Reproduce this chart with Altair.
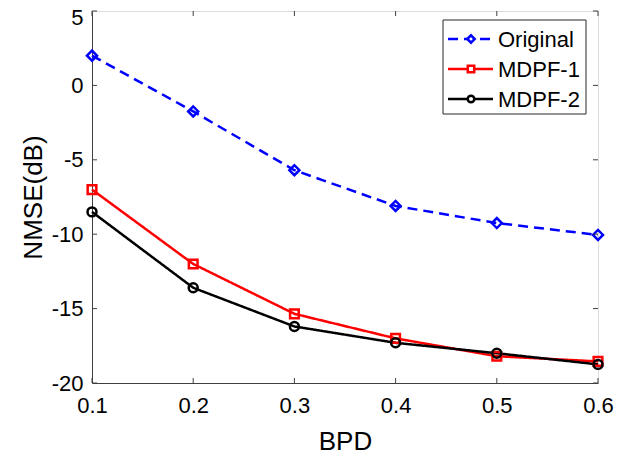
import altair as alt
import pandas as pd

bpd = [0.1, 0.2, 0.3, 0.4, 0.5, 0.6]
original = [2.0, -1.75, -5.7, -8.1, -9.25, -10.05]
mdpf1 = [-7.0, -12.0, -15.35, -17.0, -18.2, -18.55]
mdpf2 = [-8.5, -13.6, -16.2, -17.3, -18.0, -18.75]

series_names = ["Original", "MDPF-1", "MDPF-2"]
series_colors = ["#0000FF", "#FF0000", "#000000"]
series_shapes = ["diamond", "square", "circle"]
series_sizes = [100, 75, 80]
series_dash = [[10, 6], [1, 0], [1, 0]]

x_ticks = [0.1, 0.2, 0.3, 0.4, 0.5, 0.6]
y_ticks = [5, 0, -5, -10, -15, -20]

W, H = 506, 372
FONT = "Liberation Sans"
AXC = "#404040"

rows = []
for name, vals in zip(series_names, [original, mdpf1, mdpf2]):
    for b, v in zip(bpd, vals):
        rows.append({"BPD": b, "NMSE": v, "series": name})
df = pd.DataFrame(rows)

xscale = alt.Scale(domain=[0.1, 0.6], nice=False, zero=False)
yscale = alt.Scale(domain=[-20, 5], nice=False, zero=False)

xaxis = alt.Axis(values=x_ticks, format=".1f", ticks=False, grid=False,
                 labelFontSize=22, labelFont=FONT, labelColor="#000",
                 labelPadding=12, title="BPD", titleFontSize=26, titleFont=FONT,
                 titleFontWeight="normal", titleColor="#000", titlePadding=12,
                 domainColor=AXC, labelFlush=False)
yaxis = alt.Axis(values=y_ticks, labelExpr="'' + datum.value", ticks=False, grid=False,
                 labelFontSize=22, labelFont=FONT, labelColor="#000",
                 labelPadding=9, title="NMSE(dB)", titleFontSize=26, titleFont=FONT,
                 titleFontWeight="normal", titleColor="#000", titlePadding=5,
                 domainColor=AXC, labelFlush=False,
                 labelOffset={"condition": {"test": "datum.value == 5", "value": 6}, "value": 0})


def X(field):
    return alt.X(field, scale=xscale, axis=xaxis)


def Y(field):
    return alt.Y(field, scale=yscale, axis=yaxis)


layers = []
for i, name in enumerate(series_names):
    sub = alt.Chart(df).transform_filter(alt.datum.series == name)
    layers.append(sub.mark_line(color=series_colors[i], strokeWidth=2.5,
                                strokeDash=series_dash[i]).encode(
        x=X("BPD:Q"), y=Y("NMSE:Q")))
for i, name in enumerate(series_names):
    sub = alt.Chart(df).transform_filter(alt.datum.series == name)
    layers.append(sub.mark_point(shape=series_shapes[i], filled=False,
                                 color=series_colors[i], strokeWidth=2.5,
                                 size=series_sizes[i], opacity=1).encode(
        x=X("BPD:Q"), y=Y("NMSE:Q")))

# inward ticks
xt = pd.DataFrame({"BPD": x_ticks})
yt = pd.DataFrame({"NMSE": y_ticks})
TL = 5
layers.append(alt.Chart(xt).mark_rule(color=AXC, strokeWidth=1).encode(
    x=X("BPD:Q"), y=alt.value(H), y2=alt.value(H - TL)))
layers.append(alt.Chart(xt).mark_rule(color=AXC, strokeWidth=1).encode(
    x=X("BPD:Q"), y=alt.value(0), y2=alt.value(TL)))
layers.append(alt.Chart(yt).mark_rule(color=AXC, strokeWidth=1).encode(
    y=Y("NMSE:Q"), x=alt.value(0), x2=alt.value(TL)))
layers.append(alt.Chart(yt).mark_rule(color=AXC, strokeWidth=1).encode(
    y=Y("NMSE:Q"), x=alt.value(W - TL), x2=alt.value(W)))

# legend
LX0, LX1, LY0, LY1 = 351, 494, 9, 103
row_y = [28, 58, 88]
leg = pd.DataFrame({"series": series_names})
layers.append(alt.Chart(leg).transform_filter(alt.datum.series == "Original").mark_rect(
    fill="white", stroke="#262626", strokeWidth=1).encode(
    x=alt.value(LX0), x2=alt.value(LX1), y=alt.value(LY0), y2=alt.value(LY1)))
for i, name in enumerate(series_names):
    sub = alt.Chart(leg).transform_filter(alt.datum.series == name)
    layers.append(sub.mark_rule(color=series_colors[i], strokeWidth=2.5,
                                strokeDash=series_dash[i]).encode(
        x=alt.value(356), x2=alt.value(401), y=alt.value(row_y[i])))
    layers.append(sub.mark_point(shape=series_shapes[i], filled=False,
                                 color=series_colors[i], strokeWidth=2.5,
                                 fill="white", fillOpacity=1,
                                 size=series_sizes[i] * 0.55, opacity=1).encode(
        x=alt.value(379), y=alt.value(row_y[i])))
    layers.append(sub.mark_text(align="left", baseline="middle", font=FONT,
                                fontSize=22, color="#000").encode(
        x=alt.value(406), y=alt.value(row_y[i] + 1), text="series:N"))

chart = alt.layer(*layers).properties(
    width=W, height=H,
    autosize=alt.AutoSizeParams(type="none"),
    padding={"left": 84, "top": 3, "right": 26, "bottom": 71},
).configure_view(stroke=AXC, strokeWidth=1).configure(background="white")

chart.save("out.html", embed_options={"renderer": "svg", "actions": False})
